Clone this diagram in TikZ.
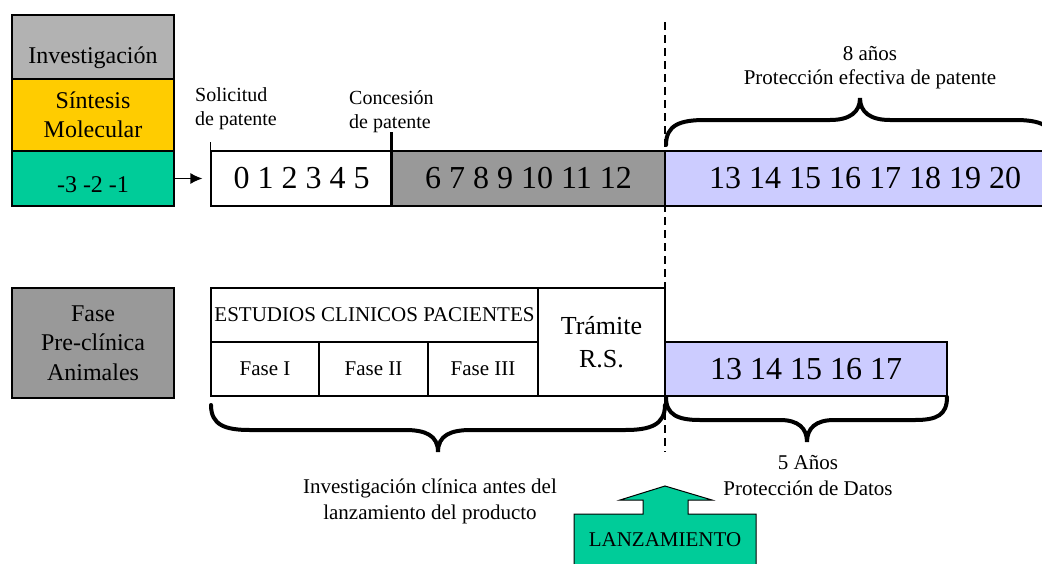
\documentclass[tikz,border=0pt]{standalone}
\usepackage{fontspec}
\setmainfont{Liberation Serif}
\usetikzlibrary{arrows.meta}
\definecolor{invgray}{RGB}{178, 178, 178}
\definecolor{sinyellow}{RGB}{255, 204, 0}
\definecolor{yeargreen}{RGB}{0, 204, 153}
\definecolor{midgray}{RGB}{153, 153, 153}
\definecolor{protblue}{RGB}{204, 204, 255}

\begin{document}
\begin{tikzpicture}[x = 1pt, y = -1pt, >={Latex[length=12pt, width=11pt]},
  box/.style = {draw, line width = 1.2pt, inner sep = 0pt, align = center},
  bigtxt/.style = {font = \fontsize{32}{36}\selectfont},
  midtxt/.style = {font = \fontsize{24}{29}\selectfont},
  smtxt/.style = {font = \fontsize{21}{25}\selectfont, inner sep = 0pt},
  brace/.style = {line width = 4pt, line cap = round}]
\clip (0,0) rectangle (1042,563);
% left column
\node[box, fill = invgray, minimum width = 162, minimum height = 64, midtxt, text height = 32pt, text depth = 0pt] (inv) at (93,47) {Investigación};
\node[box, fill = sinyellow, minimum width = 162, minimum height = 72, midtxt] (sin) at (93,115) {Síntesis\\Molecular};
\node[box, fill = yeargreen, minimum width = 162, minimum height = 55, midtxt, text height = 27pt, text depth = 0pt] (neg) at (93,178.5) {-3 -2 -1};
\node[box, fill = midgray, minimum width = 162, minimum height = 110, font = \fontsize{24}{29.5}\selectfont] (pre) at (93,343) {Fase\\Pre-clínica\\Animales};
% patent years
\node[box, minimum width = 181, minimum height = 55, bigtxt] (t0) at (301.5,178.5) {0 1 2 3 4 5};
\node[box, fill = midgray, minimum width = 273, minimum height = 55, bigtxt] (t1) at (528.5,178.5) {6 7 8 9 10 11 12};
\node[box, fill = protblue, minimum width = 400, minimum height = 55, bigtxt] (t2) at (865,178.5) {13 14 15 16 17 18 19 20};
\draw[->, line width = 1.2pt, shorten > = 8pt] (neg.east) -- (t0.west);
\draw[line width = 1.2pt] (t0.north west) -- ([yshift = 8pt]t0.north west);
\draw[line width = 3pt] (t1.south west) -- ([yshift = 18pt]t1.north west);
\node[smtxt, font = \fontsize{20}{24}\selectfont, align = left, anchor = west] (sol) at (195,109) {Solicitud\\de patente};
\node[smtxt, font = \fontsize{20}{24}\selectfont, align = left, anchor = west] (con) at (349,112) {Concesión\\de patente};
% clinical studies
\node[box, minimum width = 327, minimum height = 54, smtxt] (est) at (374.5,315) {ESTUDIOS CLINICOS PACIENTES};
\node[box, minimum width = 108, minimum height = 54, smtxt] (f1) at (265,369) {Fase I};
\node[box, minimum width = 109, minimum height = 54, smtxt] (f2) at (373.5,369) {Fase II};
\node[box, minimum width = 110, minimum height = 54, smtxt] (f3) at (483,369) {Fase III};
\node[box, minimum width = 127, minimum height = 108, font = \fontsize{26}{33}\selectfont] (tra) at (601.5,342) {Trámite\\R.S.};
\node[box, fill = protblue, minimum width = 282, minimum height = 54, bigtxt] (dat) at (806,369) {13 14 15 16 17};
% launch line
\draw[line width = 1.5pt, dash pattern = on 8pt off 5pt] (665,22) -- (665,452);
% braces
\draw[brace] (666,145) .. controls (666,125) and (680,120) .. (705,120) -- (830,120)
  .. controls (850,120) and (860,112) .. (860,98) .. controls (860,112) and (870,120) .. (890,120)
  -- (1015,120) .. controls (1040,120) and (1054,125) .. (1054,145);
\draw[brace] (211,405) .. controls (211,425) and (225,430) .. (250,430) -- (405,430)
  .. controls (425,430) and (438,435) .. (438,452) .. controls (438,435) and (451,430) .. (471,430)
  -- (625,430) .. controls (650,430) and (665,425) .. (665,405);
\draw[brace] (666,397) .. controls (666,415) and (678,420) .. (700,420) -- (780,420)
  .. controls (798,420) and (807,428) .. (807,442) .. controls (807,428) and (816,420) .. (834,420)
  -- (915,420) .. controls (937,420) and (947,415) .. (947,397);
\node[smtxt, align = center, font = \fontsize{21}{24}\selectfont] (ocho) at (870,68) {8 años\\Protección efectiva de patente};
\node[smtxt, align = center, font = \fontsize{21}{26}\selectfont] (cinco) at (808,476) {5 Años\\Protección de Datos};
\node[smtxt, align = center, font = \fontsize{21}{26}\selectfont] (clin) at (430,501) {Investigación clínica antes del\\lanzamiento del producto};
% launch arrow
\draw[fill = yeargreen, line width = 1pt] (574,570) -- (574,514) -- (643,514) -- (643,500) -- (620,500)
  -- (665,486) -- (712,500) -- (688,500) -- (688,514) -- (756,514) -- (756,570) -- cycle;
\node[smtxt] (lanz) at (665,540) {LANZAMIENTO};
\end{tikzpicture}
\end{document}
